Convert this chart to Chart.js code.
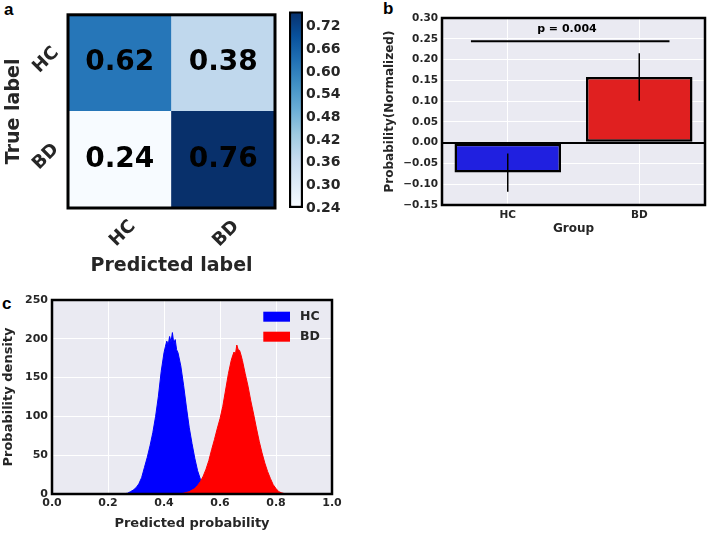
<!DOCTYPE html>
<html>
<head>
<meta charset="utf-8">
<title>Classification results</title>
<script src="https://cdn.jsdelivr.net/npm/chart.js@4.4.1/dist/chart.umd.min.js"></script>
<style>
  html, body { margin: 0; padding: 0; background: #fff; }
  body { width: 709px; height: 533px; position: relative; overflow: hidden; }
  .box { position: absolute; }
  .tag { position: absolute; font: bold 17px "Liberation Sans", Arial, sans-serif; color: #000; line-height: 1; }
</style>
</head>
<body>
<div class="tag" style="left:4px;top:1px">a</div>
<div class="tag" style="left:383px;top:0px">b</div>
<div class="tag" style="left:2px;top:295px">c</div>

<div class="box" style="left:0;top:0;width:285px;height:285px"><canvas id="cmChart"></canvas></div>
<div class="box" style="left:280px;top:0;width:70px;height:230px"><canvas id="cbChart"></canvas></div>
<div class="box" style="left:370px;top:0;width:339px;height:245px"><canvas id="barChart"></canvas></div>
<div class="box" style="left:0;top:285px;width:360px;height:248px"><canvas id="histChart"></canvas></div>

<script>
// ---- data ----
const classes = ["HC", "BD"];
const cmRowHC = [0.62, 0.38];   // true HC
const cmRowBD = [0.24, 0.76];   // true BD
const cbTicks = [0.24, 0.30, 0.36, 0.42, 0.48, 0.54, 0.60, 0.66, 0.72];
const cbRange = [0.24, 0.76];

const groups = ["HC", "BD"];
const groupMeans = [-0.072, 0.158];
const errLow = [-0.118, 0.101];
const errHigh = [-0.026, 0.215];
const pLabel = "p = 0.004";
const pLineX = [-0.28, 1.23];
const pLineY = 0.244;

const hcX = [0.25, 0.26, 0.27, 0.28, 0.29, 0.30, 0.31, 0.32, 0.33, 0.34, 0.35, 0.36, 0.37, 0.38, 0.39, 0.40,
  0.405, 0.41, 0.415, 0.42, 0.425, 0.43, 0.435, 0.44, 0.445, 0.45, 0.46, 0.47, 0.48, 0.49, 0.50,
  0.51, 0.52, 0.53, 0.54, 0.55, 0.56, 0.57, 0.58, 0.59];
const hcY = [0, 0.5, 1, 3, 5, 8, 13, 21, 34, 47, 62, 79, 100, 126, 158, 182,
  190, 197, 192, 203, 196, 208, 194, 199, 186, 182, 165, 140, 112, 86, 65,
  46, 30, 19, 11, 6, 3, 1.5, 0.5, 0];
const bdX = [0.45, 0.46, 0.47, 0.48, 0.49, 0.50, 0.51, 0.52, 0.53, 0.54, 0.55, 0.56, 0.57, 0.58, 0.59, 0.60,
  0.61, 0.62, 0.63, 0.64, 0.645, 0.65, 0.655, 0.66, 0.665, 0.67, 0.675, 0.68, 0.69, 0.70,
  0.71, 0.72, 0.73, 0.74, 0.75, 0.76, 0.77, 0.78, 0.79, 0.80, 0.81, 0.82, 0.83, 0.84];
const bdY = [0, 0.5, 1, 2, 3, 5, 7, 11, 16, 23, 32, 43, 57, 70, 84, 97,
  113, 134, 155, 172, 178, 183, 180, 192, 186, 185, 179, 172, 155, 139,
  120, 103, 85, 68, 53, 40, 29, 20, 12, 7, 3, 1.5, 0.5, 0];

// ---- styling helpers ----
Chart.defaults.font.family = "'DejaVu Sans', sans-serif";
Chart.defaults.font.weight = "bold";
Chart.defaults.color = "#262626";

const BLUES = ["#f7fbff", "#deebf7", "#c6dbef", "#9ecae1", "#6baed6", "#4292c6", "#2171b5", "#08519c", "#08306b"];

function hexRgb(h) {
  return [1, 3, 5].map((i) => parseInt(h.slice(i, i + 2), 16));
}

function blues(t) {
  t = Math.max(0, Math.min(1, t));
  const pos = t * (BLUES.length - 1);
  const i = Math.min(Math.floor(pos), BLUES.length - 2);
  const f = pos - i;
  const a = hexRgb(BLUES[i]);
  const b = hexRgb(BLUES[i + 1]);
  const c = a.map((v, k) => Math.round(v + (b[k] - v) * f));
  return `rgb(${c[0]},${c[1]},${c[2]})`;
}

const cmColor = (v) => blues((v - cbRange[0]) / (cbRange[1] - cbRange[0]));

function frame(width) {
  return {
    id: "frame",
    afterDraw(chart) {
      const { ctx, chartArea: a } = chart;
      ctx.save();
      ctx.strokeStyle = "#000";
      ctx.lineWidth = width;
      ctx.strokeRect(a.left, a.top, a.right - a.left, a.bottom - a.top);
      ctx.restore();
    },
  };
}

const plotBg = {
  id: "plotBg",
  beforeDraw(chart) {
    const { ctx, chartArea: a } = chart;
    ctx.save();
    ctx.fillStyle = "#eaeaf2";
    ctx.fillRect(a.left, a.top, a.right - a.left, a.bottom - a.top);
    ctx.restore();
  },
};

// ---- a: confusion matrix ----
const cellText = {
  id: "cellText",
  afterDatasetsDraw(chart) {
    const { ctx } = chart;
    ctx.save();
    ctx.fillStyle = "#000";
    ctx.font = "bold 28px 'DejaVu Sans'";
    ctx.textAlign = "center";
    ctx.textBaseline = "middle";
    chart.data.datasets.forEach((ds, di) => {
      chart.getDatasetMeta(di).data.forEach((el, i) => {
        ctx.fillText(ds.values[i].toFixed(2), el.x, (el.y + el.base) / 2);
      });
    });
    ctx.restore();
  },
};

new Chart(document.getElementById("cmChart"), {
  type: "bar",
  data: {
    labels: classes,
    datasets: [
      { label: "BD", values: cmRowBD, data: cmRowBD.map(() => 1), backgroundColor: cmRowBD.map(cmColor) },
      { label: "HC", values: cmRowHC, data: cmRowHC.map(() => 1), backgroundColor: cmRowHC.map(cmColor) },
    ],
  },
  options: {
    animation: false,
    responsive: true,
    maintainAspectRatio: false,
    layout: { padding: { top: 2, right: 10, left: 0, bottom: 0 } },
    datasets: { bar: { barPercentage: 1, categoryPercentage: 1, borderWidth: 0 } },
    plugins: { legend: { display: false }, tooltip: { enabled: false } },
    scales: {
      x: {
        stacked: true,
        grid: { display: false },
        border: { display: false },
        ticks: { font: { size: 18 }, minRotation: 45, maxRotation: 45, labelOffset: 13, padding: 0 },
        title: { display: true, text: "Predicted label", font: { size: 19 }, padding: { top: 0, bottom: 8 } },
        afterFit: (s) => { s.height = 77; },
      },
      y: {
        stacked: true,
        min: 0,
        max: 2,
        grid: { display: false },
        border: { display: false },
        afterBuildTicks: (s) => { s.ticks = [{ value: 0.5 }, { value: 1.5 }]; },
        ticks: {
          font: { size: 18 },
          minRotation: 45,
          maxRotation: 45,
          padding: 4,
          labelOffset: -13,
          callback: (v, i) => classes[classes.length - 1 - i],
        },
        title: { display: true, text: "True label", font: { size: 19 }, padding: { top: 3, bottom: 0 } },
        afterFit: (s) => { s.width = 68; },
      },
    },
  },
  plugins: [cellText, frame(3)],
});

// ---- a: colour bar ----
new Chart(document.getElementById("cbChart"), {
  type: "bar",
  data: {
    labels: ["scale"],
    datasets: [{
      data: [cbRange.slice()],
      backgroundColor: (ctx) => {
        const a = ctx.chart.chartArea;
        if (!a) return BLUES[0];
        const g = ctx.chart.ctx.createLinearGradient(0, a.bottom, 0, a.top);
        BLUES.forEach((c, i) => g.addColorStop(i / (BLUES.length - 1), c));
        return g;
      },
      borderColor: "#000",
      borderWidth: 2.5,
      borderSkipped: false,
      barPercentage: 1,
      categoryPercentage: 1,
    }],
  },
  options: {
    animation: false,
    responsive: true,
    maintainAspectRatio: false,
    layout: { padding: { top: 2, left: 9, right: 0, bottom: 22 } },
    plugins: { legend: { display: false }, tooltip: { enabled: false } },
    scales: {
      x: { display: false },
      y: {
        position: "right",
        min: cbRange[0],
        max: cbRange[1],
        grid: { display: false, drawTicks: false },
        border: { display: false },
        afterBuildTicks: (s) => { s.ticks = cbTicks.map((v) => ({ value: v })); },
        ticks: { font: { size: 14 }, padding: 3, callback: (v) => v.toFixed(2) },
        afterFit: (s) => { s.width = 47; },
      },
    },
  },
});

// ---- b: group bars ----
const fmtSigned = (v) => {
  if (Math.abs(v) < 1e-9) return "0.00";
  return (v < 0 ? "\u2212" : "") + Math.abs(v).toFixed(2);
};

const barExtras = {
  id: "barExtras",
  afterDatasetsDraw(chart) {
    const { ctx, scales } = chart;
    const x = scales.x, y = scales.y;
    ctx.save();
    ctx.strokeStyle = "#000";
    ctx.lineWidth = 1.5;
    groups.forEach((g, i) => {
      const px = x.getPixelForValue(i);
      ctx.beginPath();
      ctx.moveTo(px, y.getPixelForValue(errLow[i]));
      ctx.lineTo(px, y.getPixelForValue(errHigh[i]));
      ctx.stroke();
    });
    ctx.fillStyle = "#000";
    ctx.font = "bold 11px 'DejaVu Sans'";
    ctx.textAlign = "center";
    ctx.textBaseline = "middle";
    ctx.fillText(pLabel, x.getPixelForValue(0.45), y.getPixelForValue(0.274));
    ctx.restore();
  },
};

new Chart(document.getElementById("barChart"), {
  type: "bar",
  data: {
    datasets: [
      {
        type: "bar",
        data: groupMeans.map((v, i) => ({ x: i, y: v })),
        backgroundColor: ["#2020e0", "#e02020"],
        borderColor: "#000",
        borderWidth: 2.5,
        borderSkipped: false,
        barPercentage: 0.81,
        categoryPercentage: 1,
        order: 1,
      },
      {
        type: "line",
        data: pLineX.map((x) => ({ x, y: pLineY })),
        borderColor: "#000",
        borderWidth: 2,
        pointRadius: 0,
        order: 0,
      },
    ],
  },
  options: {
    animation: false,
    responsive: true,
    maintainAspectRatio: false,
    layout: { padding: { top: 18, right: 4, left: 0, bottom: 0 } },
    plugins: { legend: { display: false }, tooltip: { enabled: false } },
    scales: {
      x: {
        type: "linear",
        offset: false,
        min: -0.5,
        max: 1.5,
        grid: { color: "#fff", drawTicks: false, offset: false },
        border: { display: false },
        afterBuildTicks: (s) => { s.ticks = groups.map((g, i) => ({ value: i })); },
        ticks: { font: { size: 10.5 }, padding: 4, callback: (v) => groups[v] },
        title: { display: true, text: "Group", font: { size: 12 }, padding: { top: 0, bottom: 8.5 } },
        afterFit: (s) => { s.height = 40; },
      },
      y: {
        min: -0.15,
        max: 0.30,
        grid: {
          drawTicks: false,
          color: (c) => (Math.abs(c.tick.value) < 1e-9 ? "#000" : "#fff"),
          lineWidth: (c) => (Math.abs(c.tick.value) < 1e-9 ? 2 : 1),
        },
        border: { display: false },
        ticks: { stepSize: 0.05, font: { size: 10.5 }, padding: 4, callback: fmtSigned },
        title: { display: true, text: "Probability(Normalized)", font: { size: 12 }, padding: { top: 12.8, bottom: 0 } },
        afterFit: (s) => { s.width = 72; },
      },
    },
  },
  plugins: [plotBg, barExtras, frame(2.5)],
});

// ---- c: predicted probability histograms ----
const histLegend = {
  id: "histLegend",
  afterDraw(chart) {
    const { ctx, chartArea: a } = chart;
    ctx.save();
    ctx.font = "bold 12.5px 'DejaVu Sans'";
    ctx.textAlign = "left";
    ctx.textBaseline = "middle";
    chart.data.datasets.forEach((ds, i) => {
      const top = a.top + 11.7 + i * 20;
      ctx.fillStyle = ds.backgroundColor;
      ctx.fillRect(a.right - 68.7, top, 26.7, 10);
      ctx.fillStyle = "#262626";
      ctx.fillText(ds.label, a.right - 32, top + 5);
    });
    ctx.restore();
  },
};

new Chart(document.getElementById("histChart"), {
  type: "line",
  data: {
    datasets: [
      {
        label: "HC",
        data: hcX.map((x, i) => ({ x, y: hcY[i] })),
        borderColor: "#0000ff",
        backgroundColor: "#0000ff",
        fill: "origin",
        order: 1,
      },
      {
        label: "BD",
        data: bdX.map((x, i) => ({ x, y: bdY[i] })),
        borderColor: "#ff0000",
        backgroundColor: "#ff0000",
        fill: "origin",
        order: 0,
      },
    ],
  },
  options: {
    animation: false,
    responsive: true,
    maintainAspectRatio: false,
    layout: { padding: { top: 15, right: 28, left: 0, bottom: 0 } },
    elements: { point: { radius: 0 }, line: { borderWidth: 1, tension: 0 } },
    plugins: { legend: { display: false }, tooltip: { enabled: false } },
    scales: {
      x: {
        type: "linear",
        min: 0,
        max: 1,
        grid: { color: "#fff", drawTicks: false },
        border: { display: false },
        ticks: { stepSize: 0.2, font: { size: 11 }, padding: 3, callback: (v) => v.toFixed(1) },
        title: { display: true, text: "Predicted probability", font: { size: 13 }, padding: { top: 0, bottom: 1.2 } },
        afterFit: (s) => { s.height = 39; },
      },
      y: {
        min: 0,
        max: 250,
        grid: { color: "#fff", drawTicks: false },
        border: { display: false },
        ticks: { stepSize: 50, font: { size: 11 }, padding: 4 },
        title: { display: true, text: "Probability density", font: { size: 13 }, padding: { top: 1.2, bottom: 0 } },
        afterFit: (s) => { s.width = 52; },
      },
    },
  },
  plugins: [plotBg, histLegend, frame(2.5)],
});
</script>
</body>
</html>
